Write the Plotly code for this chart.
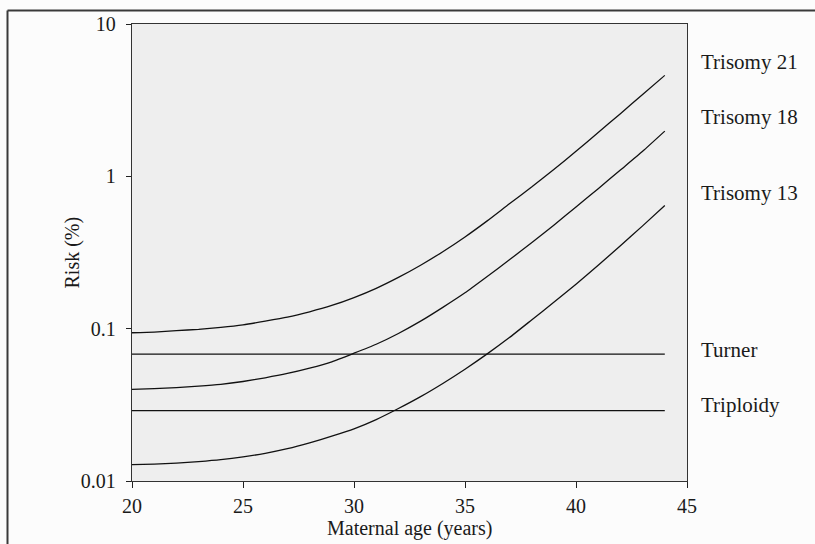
import plotly.graph_objects as go

# ---- data (risk in %) ----
ages = list(range(20, 45))
trisomy21 = [0.094, 0.095, 0.097, 0.099, 0.102, 0.106, 0.112, 0.119, 0.129, 0.142,
             0.160, 0.184, 0.217, 0.261, 0.32, 0.40, 0.51, 0.66, 0.85, 1.11,
             1.46, 1.94, 2.58, 3.45, 4.6]
trisomy18 = [0.0400, 0.0404, 0.0410, 0.0419, 0.0431, 0.0450, 0.0476, 0.0508, 0.0551, 0.0606,
             0.069, 0.079, 0.093, 0.112, 0.138, 0.172, 0.220, 0.283, 0.366, 0.478,
             0.629, 0.830, 1.10, 1.46, 1.98]
trisomy13 = [0.0128, 0.0129, 0.0131, 0.0134, 0.0138, 0.0144, 0.0152, 0.0163, 0.0178, 0.0197,
             0.0220, 0.0253, 0.0299, 0.0358, 0.0437, 0.0542, 0.0683, 0.0874, 0.114, 0.149,
             0.196, 0.261, 0.350, 0.473, 0.643]
turner = [0.068] * len(ages)
triploidy = [0.029] * len(ages)

series_names = ["Trisomy 21", "Trisomy 18", "Trisomy 13", "Turner", "Triploidy"]
series_vals = [trisomy21, trisomy18, trisomy13, turner, triploidy]

x_ticks = [20, 25, 30, 35, 40, 45]
y_ticks = [0.01, 0.1, 1, 10]
y_ticktext = ["0.01", "0.1", "1", "10"]

# ---- layout geometry (pixels) ----
W, H = 815, 544
L, R, T, B = 132, 128, 24, 63
plot_w = W - L - R
plot_h = H - T - B

def px_x(px):
    return (px - L) / plot_w

def px_y(py):
    return (H - B - py) / plot_h

FONT = "Liberation Serif, Times New Roman, serif"
FS = 20

fig = go.Figure()
for name, vals in zip(series_names, series_vals):
    fig.add_trace(go.Scatter(
        x=ages, y=vals, mode="lines", name=name,
        line=dict(color="#111111", width=1.3, shape="spline", smoothing=0.5),
        showlegend=False, hoverinfo="skip"))

# right-side labels (pixel y centres)
label_y_px = [62, 117, 193, 350, 405]
for name, py in zip(series_names, label_y_px):
    fig.add_annotation(text=name, xref="paper", yref="paper",
                       x=px_x(699), y=px_y(py), xanchor="left", yanchor="middle",
                       showarrow=False, font=dict(family=FONT, size=21, color="#1a1a1a"))

# axis titles
fig.add_annotation(text="Maternal age (years)", xref="paper", yref="paper",
                   x=0.5, y=px_y(528), xanchor="center", yanchor="middle",
                   showarrow=False, font=dict(family=FONT, size=FS, color="#1a1a1a"))
fig.add_annotation(text="Risk (%)", xref="paper", yref="paper", textangle=-90,
                   x=px_x(72), y=0.5, xanchor="center", yanchor="middle",
                   showarrow=False, font=dict(family=FONT, size=FS, color="#1a1a1a"))

# outer frame (left and top edges visible in the reference)
frame = dict(color="#3a3a3a", width=2)
fig.add_shape(type="line", xref="paper", yref="paper",
              x0=px_x(7.5), x1=px_x(7.5), y0=px_y(560), y1=px_y(10.5), line=frame)
fig.add_shape(type="line", xref="paper", yref="paper",
              x0=px_x(7.5), x1=px_x(820), y0=px_y(10.5), y1=px_y(10.5), line=frame)

fig.update_layout(
    width=W, height=H,
    margin=dict(l=L, r=R, t=T, b=B, autoexpand=False),
    paper_bgcolor="#fcfcfc",
    plot_bgcolor="#eeeeee",
    font=dict(family=FONT, size=FS, color="#1a1a1a"),
    xaxis=dict(range=[20, 45], tickvals=x_ticks, ticks="outside", ticklen=6,
               tickcolor="#222", showline=True, linecolor="#333", linewidth=1.3,
               mirror=True, showgrid=False, zeroline=False, automargin=False,
               ticklabelstandoff=1),
    yaxis=dict(type="log", range=[-2, 1], tickvals=y_ticks, ticktext=y_ticktext,
               ticks="outside", ticklen=5, tickcolor="#222", showline=True,
               linecolor="#333", linewidth=1.3, mirror=True, showgrid=False,
               zeroline=False, ticklabelstandoff=6, automargin=False),
)

page_js = ("document.documentElement.style.overflow='hidden';"
           "document.documentElement.style.margin='0px';"
           "document.body.style.overflow='hidden';"
           "document.body.style.margin='0px';"
           "document.body.style.background='#fcfcfc';")
fig.write_html("out.html", config={"displayModeBar": False}, post_script=page_js)
